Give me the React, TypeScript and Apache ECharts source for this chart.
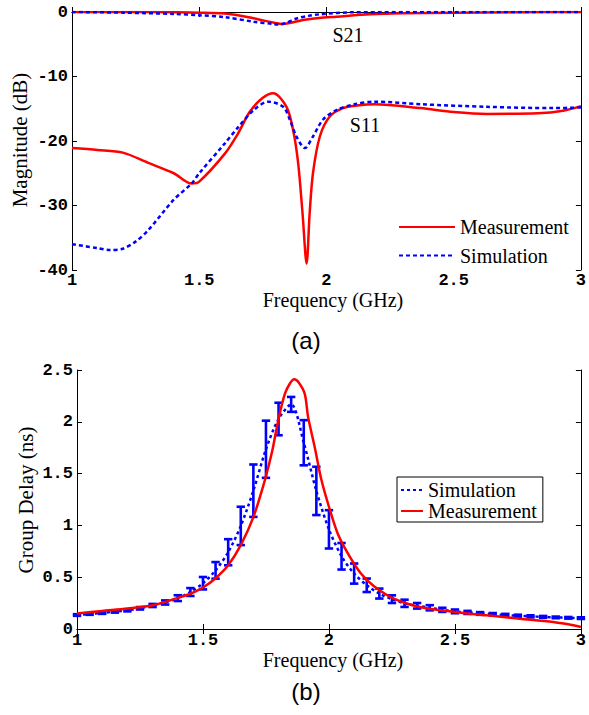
import { useEffect, useRef } from "react";
import * as echarts from "echarts";

// ---------- (a) S-parameters ----------
const s21MeasFreq = [1, 1.2, 1.4, 1.5, 1.6, 1.7, 1.75, 1.8, 1.824, 1.85, 1.908, 1.97, 2.04, 2.17, 2.3, 2.5, 2.75, 3];
const s21MeasVal = [0, 0, -0.05, -0.1, -0.25, -0.85, -1.3, -1.7, -1.86, -1.75, -1.24, -0.92, -0.72, -0.36, -0.2, -0.1, -0.03, 0];

const s21SimFreq = [1, 1.2, 1.4, 1.5, 1.6, 1.714, 1.79, 1.81, 1.84, 1.883, 1.93, 1.973, 2.1, 2.5, 3];
const s21SimVal = [0, -0.1, -0.3, -0.5, -0.8, -1.5, -1.86, -1.95, -1.7, -1.0, -0.6, -0.36, -0.05, 0, 0];

const s11MeasFreq = [1, 1.1, 1.2, 1.3, 1.4, 1.47, 1.5, 1.6, 1.65, 1.7, 1.75, 1.791, 1.843, 1.869, 1.889, 1.906, 1.922, 1.934, 1.947, 1.974, 2.013, 2.065, 2.12, 2.19, 2.37, 2.5, 2.63, 2.83, 2.93, 3];
const s11MeasVal = [-21.1, -21.4, -21.8, -23.4, -25.0, -26.6, -26.3, -22.0, -19.0, -15.4, -13.3, -12.6, -14.7, -18.3, -23.5, -31.2, -39.0, -31.2, -25.0, -19.3, -16.2, -14.9, -14.5, -14.3, -14.9, -15.5, -15.8, -15.7, -15.3, -14.6];

const s11SimFreq = [1, 1.1, 1.15, 1.2, 1.25, 1.3, 1.4, 1.47, 1.5, 1.6, 1.65, 1.714, 1.772, 1.83, 1.856, 1.882, 1.915, 1.947, 1.986, 2.039, 2.11, 2.19, 2.37, 2.63, 2.89, 3];
const s11SimVal = [-36.0, -36.6, -36.9, -36.7, -35.6, -33.8, -29.1, -26.6, -25.0, -20.4, -18.0, -15.2, -13.9, -14.7, -16.7, -19.3, -21.1, -19.3, -16.7, -15.2, -14.3, -13.9, -14.3, -14.7, -14.9, -14.8];

// ---------- (b) Group delay ----------
const gdMeasFreq = [1, 1.1, 1.2, 1.3, 1.4, 1.45, 1.5, 1.55, 1.6, 1.65, 1.7, 1.746, 1.775, 1.8, 1.825, 1.845, 1.862, 1.88, 1.904, 1.917, 1.944, 1.97, 2.0, 2.035, 2.075, 2.127, 2.18, 2.26, 2.364, 2.5, 2.627, 2.758, 2.89, 2.95, 3];
const gdMeasVal = [0.149, 0.174, 0.197, 0.229, 0.30, 0.34, 0.40, 0.49, 0.615, 0.81, 1.08, 1.44, 1.72, 2.03, 2.27, 2.37, 2.41, 2.38, 2.27, 2.05, 1.75, 1.44, 1.18, 0.92, 0.73, 0.535, 0.41, 0.29, 0.21, 0.165, 0.132, 0.10, 0.068, 0.045, 0.02];

const gdSimFreq = [1, 1.05, 1.1, 1.15, 1.2, 1.25, 1.3, 1.35, 1.4, 1.45, 1.5, 1.55, 1.6, 1.65, 1.7, 1.75, 1.8, 1.85, 1.9, 1.95, 2.0, 2.05, 2.1, 2.15, 2.2, 2.25, 2.3, 2.35, 2.4, 2.45, 2.5, 2.55, 2.6, 2.65, 2.7, 2.75, 2.8, 2.85, 2.9, 2.95, 3];
const gdSimVal = [0.135, 0.145, 0.155, 0.168, 0.18, 0.2, 0.227, 0.256, 0.298, 0.357, 0.442, 0.566, 0.741, 0.995, 1.335, 1.735, 2.027, 2.168, 1.798, 1.333, 0.962, 0.702, 0.535, 0.422, 0.342, 0.288, 0.248, 0.224, 0.205, 0.185, 0.17, 0.16, 0.15, 0.142, 0.135, 0.128, 0.122, 0.117, 0.112, 0.108, 0.105];
const gdSimErr = [0.008, 0.008, 0.009, 0.01, 0.01, 0.012, 0.015, 0.02, 0.028, 0.038, 0.06, 0.08, 0.126, 0.185, 0.253, 0.276, 0.157, 0.072, 0.218, 0.233, 0.185, 0.128, 0.097, 0.065, 0.048, 0.037, 0.035, 0.027, 0.025, 0.02, 0.018, 0.015, 0.013, 0.012, 0.011, 0.01, 0.01, 0.009, 0.008, 0.008, 0.008];

const freqTicks = [1, 1.5, 2, 2.5, 3];

const RED = "#ff0000";
const BLUE = "#0000ff";
const MONO = "'Liberation Mono', 'Courier New', monospace";
const SERIF = "'Liberation Serif', 'Times New Roman', serif";

const zip = (xs: number[], ys: number[]) => xs.map((x, i) => [x, ys[i]]);

export default function App() {
  const ref = useRef<HTMLDivElement>(null);
  useEffect(() => {
    if (!ref.current) return;
    const chart = echarts.init(ref.current, undefined, { renderer: "svg" });

    const axisLine = { show: true, lineStyle: { color: "#000", width: 1 } };
    const tick = { show: true, inside: true, length: 5, lineStyle: { color: "#000", width: 1 } };
    const label = { color: "#000", fontFamily: MONO, fontWeight: "bold" as const, fontSize: 17, lineHeight: 17 };

    const xMain = (gridIndex: number, margin: number) => ({
      type: "value", gridIndex, min: freqTicks[0], max: freqTicks[freqTicks.length - 1], interval: 0.5,
      position: "bottom", axisLine, axisTick: tick, axisLabel: { ...label, margin }, splitLine: { show: false },
    });
    const xMirror = (gridIndex: number) => ({
      type: "value", gridIndex, min: 1, max: 3, interval: 0.5, position: "top",
      axisLine, axisTick: tick, axisLabel: { show: false }, splitLine: { show: false },
    });
    const yMain = (gridIndex: number, min: number, max: number, interval: number) => ({
      type: "value", gridIndex, min, max, interval, position: "left",
      axisLine, axisTick: tick, axisLabel: { ...label, margin: 4 }, splitLine: { show: false },
    });
    const yMirror = (gridIndex: number, min: number, max: number, interval: number) => ({
      type: "value", gridIndex, min, max, interval, position: "right",
      axisLine, axisTick: tick, axisLabel: { show: false }, splitLine: { show: false },
    });

    const titleFont = `20px ${SERIF}`;
    const legendText = { fontFamily: SERIF, fontSize: 20, color: "#000", lineHeight: 20 };

    chart.setOption({
      animation: false,
      backgroundColor: "#fff",
      grid: [
        { left: 72, top: 12, right: 4, height: 258 },
        { left: 77, top: 370, right: 4, height: 259 },
      ],
      xAxis: [xMain(0, 2), xMirror(0), xMain(1, 3), xMirror(1)],
      yAxis: [yMain(0, -40, 0, 10), yMirror(0, -40, 0, 10), yMain(1, 0, 2.5, 0.5), yMirror(1, 0, 2.5, 0.5)],
      legend: [
        {
          data: ["Measurement", "Simulation"],
          orient: "vertical", left: 398, top: 217, itemWidth: 56, itemHeight: 14, itemGap: 8.6,
          selectedMode: false, padding: 0,
          itemStyle: { opacity: 0 },
          textStyle: legendText,
        },
        {
          data: ["Simulation GD", "Measurement GD"],
          formatter: (n: string) => n.replace(" GD", ""),
          orient: "vertical", left: 397, top: 477, itemWidth: 22, itemHeight: 14, itemGap: 1,
          selectedMode: false, padding: [3, 6, 1, 3], borderColor: "#000", borderWidth: 1, borderRadius: 0,
          backgroundColor: "#fff",
          itemStyle: { opacity: 0 },
          textStyle: legendText,
        },
      ],
      series: [
        // (a)
        { name: "Measurement", type: "line", xAxisIndex: 0, yAxisIndex: 0, data: zip(s11MeasFreq, s11MeasVal), showSymbol: false, symbol: "none", smooth: 0.3, lineStyle: { color: RED, width: 2.5 }, itemStyle: { color: RED }, z: 2 },
        { name: "Measurement", type: "line", xAxisIndex: 0, yAxisIndex: 0, data: zip(s21MeasFreq, s21MeasVal), showSymbol: false, symbol: "none", smooth: 0.3, lineStyle: { color: RED, width: 2.5 }, itemStyle: { color: RED }, z: 2 },
        { name: "Simulation", type: "line", xAxisIndex: 0, yAxisIndex: 0, data: zip(s11SimFreq, s11SimVal), showSymbol: false, symbol: "none", smooth: 0.3, lineStyle: { color: BLUE, width: 2.5, type: [4, 3] }, itemStyle: { color: BLUE }, z: 3 },
        { name: "Simulation", type: "line", xAxisIndex: 0, yAxisIndex: 0, data: zip(s21SimFreq, s21SimVal), showSymbol: false, symbol: "none", smooth: 0.3, lineStyle: { color: BLUE, width: 2.5, type: [4, 3] }, itemStyle: { color: BLUE }, z: 3 },
        // (b)
        { name: "Simulation GD", type: "line", xAxisIndex: 2, yAxisIndex: 2, data: zip(gdSimFreq, gdSimVal), showSymbol: false, symbol: "none", smooth: 0.3, lineStyle: { color: BLUE, width: 2.5, type: [3, 3] }, itemStyle: { color: BLUE }, z: 2 },
        {
          name: "Simulation error", type: "custom", xAxisIndex: 2, yAxisIndex: 2, silent: true, z: 3,
          encode: { x: 0, y: [1, 2] },
          data: gdSimFreq.map((f, i) => [f, gdSimVal[i] - gdSimErr[i], gdSimVal[i] + gdSimErr[i]]),
          renderItem: (_params: any, api: any) => {
            const x = api.value(0);
            const top = api.coord([x, api.value(2)]);
            const bot = api.coord([x, api.value(1)]);
            const hw = 4.2;
            const style = { stroke: BLUE, lineWidth: 2.6, fill: "none" };
            return {
              type: "group",
              children: [
                { type: "line", shape: { x1: top[0], y1: top[1], x2: bot[0], y2: bot[1] }, style },
                { type: "line", shape: { x1: top[0] - hw, y1: top[1], x2: top[0] + hw, y2: top[1] }, style },
                { type: "line", shape: { x1: bot[0] - hw, y1: bot[1], x2: bot[0] + hw, y2: bot[1] }, style },
              ],
            };
          },
        },
        { name: "Measurement GD", type: "line", xAxisIndex: 2, yAxisIndex: 2, data: zip(gdMeasFreq, gdMeasVal), showSymbol: false, symbol: "none", smooth: 0.3, lineStyle: { color: RED, width: 2.5 }, itemStyle: { color: RED }, z: 4 },
      ],
      graphic: [
        { type: "text", x: 348, y: 35, style: { text: "S21", font: `20px ${SERIF}`, fill: "#000", textAlign: "center", textVerticalAlign: "middle" } },
        { type: "text", x: 365, y: 125, style: { text: "S11", font: `20px ${SERIF}`, fill: "#000", textAlign: "center", textVerticalAlign: "middle" } },
        { type: "text", x: 333, y: 300, style: { text: "Frequency (GHz)", font: titleFont, fill: "#000", textAlign: "center", textVerticalAlign: "middle" } },
        { type: "text", x: 333, y: 660, style: { text: "Frequency (GHz)", font: titleFont, fill: "#000", textAlign: "center", textVerticalAlign: "middle" } },
        { type: "text", x: 20, y: 140, rotation: Math.PI / 2, style: { text: "Magnitude (dB)", font: `21px ${SERIF}`, fill: "#000", textAlign: "center", textVerticalAlign: "middle" } },
        { type: "text", x: 26, y: 500, rotation: Math.PI / 2, style: { text: "Group Delay (ns)", font: `21px ${SERIF}`, fill: "#000", textAlign: "center", textVerticalAlign: "middle" } },
        { type: "text", x: 306, y: 340, style: { text: "(a)", font: `24px 'Liberation Sans', Arial, sans-serif`, fill: "#000", textAlign: "center", textVerticalAlign: "middle" } },
        { type: "text", x: 306, y: 691, style: { text: "(b)", font: `24px 'Liberation Sans', Arial, sans-serif`, fill: "#000", textAlign: "center", textVerticalAlign: "middle" } },
      ],
    });
    return () => chart.dispose();
  }, []);
  return <div ref={ref} style={{ position: "absolute", left: 0, top: 0, width: 589, height: 715 }} />;
}
